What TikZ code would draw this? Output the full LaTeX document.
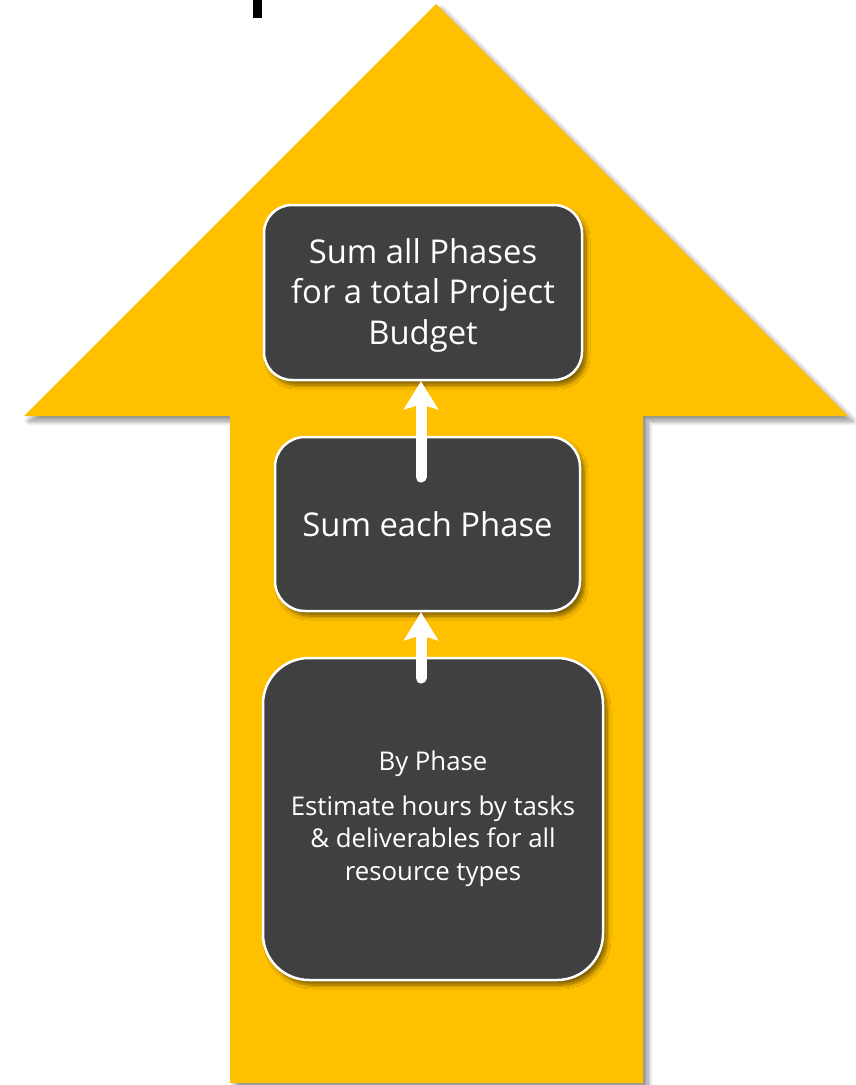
\documentclass[tikz,border=0pt]{standalone}
\usepackage{fontspec}
\setmainfont{Open Sans}
\usetikzlibrary{shadows.blur,arrows.meta,calc}
\definecolor{arrowgold}{HTML}{FFC000}
\definecolor{boxgray}{HTML}{404040}
\tikzset{
  bigarrow/.style={fill=arrowgold, draw=none,
    blur shadow={shadow xshift=5pt, shadow yshift=-5pt, shadow blur steps=10,
                 shadow blur radius=5pt, shadow opacity=45}},
  stepbox/.style={rectangle, fill=boxgray, draw=white, line width=2.5pt,
    text=white, align=center, inner sep=0pt,
    blur shadow={shadow xshift=4pt, shadow yshift=-5pt, shadow blur steps=8,
                 shadow blur radius=4pt, shadow opacity=50}},
  bigtext/.style={font=\fontsize{32.8}{40.5}\selectfont},
  smalltext/.style={font=\fontsize{25.8}{32.5}\selectfont},
  flow/.style={draw=white, line width=11pt, line cap=round,
    -{Stealth[length=28pt, width=34pt, inset=5pt]},
    blur shadow={shadow xshift=2pt, shadow yshift=-3pt, shadow blur steps=6,
                 shadow blur radius=3pt, shadow opacity=35}}
}
\begin{document}
\begin{tikzpicture}[x=1pt, y=-1pt]
  \useasboundingbox (0,0) rectangle (856,1085);
  % small black mark at the top
  \fill[black] (253,0) rectangle (262,18);
  % large upward block arrow
  \path[bigarrow] (436,4) -- (848,416) -- (643,416) -- (643,1083)
       -- (230,1083) -- (230,416) -- (24,416) -- cycle;
  % step boxes
  \node[stepbox, rounded corners=28pt, minimum width=318pt, minimum height=175pt]
    (b1) at (423,292.5) {};
  \node[text=white, align=center, bigtext, inner sep=0pt] (t1) at (423,295)
    {Sum all Phases\\for a total Project\\Budget};
  \node[stepbox, bigtext, rounded corners=30pt, minimum width=305pt, minimum height=174pt]
    (b2) at (427.5,524) {Sum each Phase};
  \node[stepbox, smalltext, rounded corners=46pt, minimum width=340pt, minimum height=322pt]
    (b3) at (433,819) {By Phase\\[12pt]Estimate hours by tasks\\\& deliverables for all\\resource types};
  % connectors
  \coordinate (s1) at (421,477);
  \coordinate (s2) at (421,678);
  \draw[flow] (s1) -- (s1 |- b1.south);
  \draw[flow] (s2) -- (s2 |- b2.south);
\end{tikzpicture}
\end{document}
